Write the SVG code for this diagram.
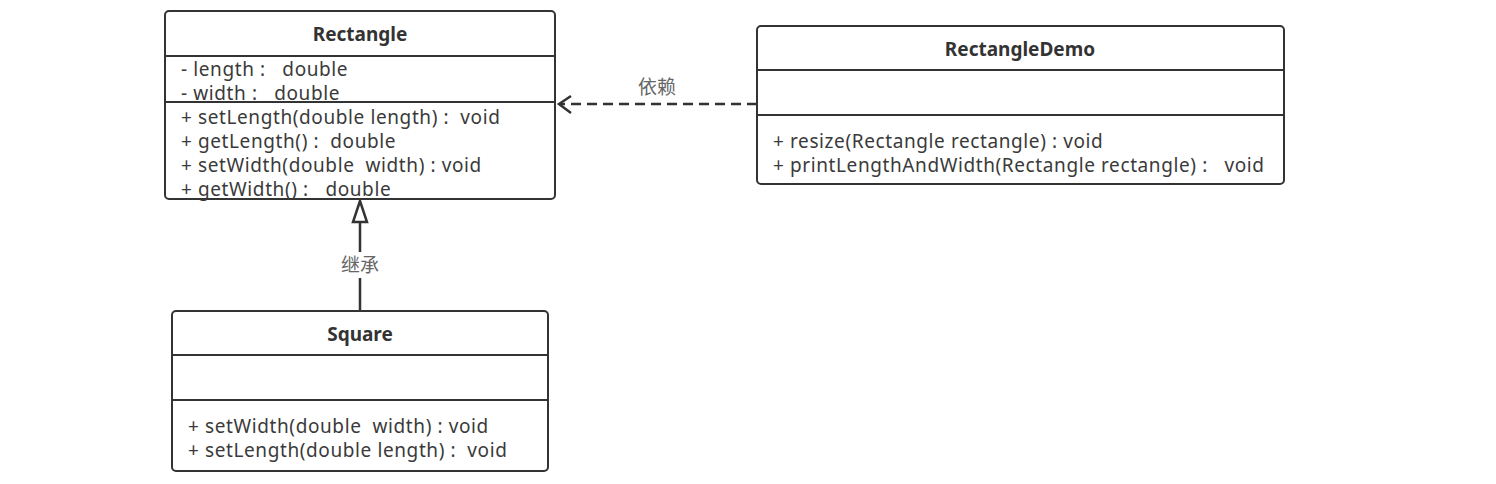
<svg xmlns="http://www.w3.org/2000/svg" width="1496" height="484" viewBox="0 0 1496 484">
<defs>
<style>
.box{fill:#fff;stroke:#333;stroke-width:2}
.sep{stroke:#333;stroke-width:2}
.title{font-family:"Noto Sans","Liberation Sans","Noto Sans CJK SC",sans-serif;font-size:19px;font-weight:bold;fill:#333;text-anchor:middle}
.item{font-family:"Noto Sans","Liberation Sans","Noto Sans CJK SC",sans-serif;font-size:19px;letter-spacing:0.6px;fill:#3a3a3a;white-space:pre}
.lbl{font-family:"Noto Sans CJK SC","Noto Sans",sans-serif;font-size:19px;fill:#666;text-anchor:middle}
.edge{fill:none;stroke:#333;stroke-width:2.5}
</style>
</defs>
<rect width="1496" height="484" fill="#fff"/>
<g id="connectors">
<line class="edge" x1="360" y1="311" x2="360" y2="222"/>
<polygon points="360,201 353,222 367,222" fill="#fff" stroke="#333" stroke-width="2.5"/>
<rect x="336" y="252" width="48" height="26" fill="#fff"/>
<text class="lbl" x="360" y="272">继承</text>
<line class="edge" x1="757" y1="104" x2="560" y2="104" stroke-dasharray="10,6"/>
<polyline class="edge" points="571,96 559,104 571,113"/>
<text class="lbl" x="657" y="94">依赖</text>
</g>
<g id="Rectangle">
<rect class="box" x="165" y="11" width="390" height="188" rx="4"/>
<line class="sep" x1="165" y1="56" x2="555" y2="56"/>
<line class="sep" x1="165" y1="102" x2="555" y2="102"/>
<text class="title" x="360" y="41">Rectangle</text>
<text class="item" x="181" y="76">- length :   double</text>
<text class="item" x="181" y="100">- width :   double</text>
<text class="item" x="181" y="124">+ setLength(double length) :  void</text>
<text class="item" x="181" y="148">+ getLength() :  double</text>
<text class="item" x="181" y="172">+ setWidth(double  width) : void</text>
<text class="item" x="181" y="196">+ getWidth() :   double</text>
</g>
<g id="RectangleDemo">
<rect class="box" x="757" y="26" width="527" height="158" rx="4"/>
<line class="sep" x1="757" y1="70" x2="1284" y2="70"/>
<line class="sep" x1="757" y1="115" x2="1284" y2="115"/>
<text class="title" x="1020" y="56">RectangleDemo</text>
<text class="item" x="773" y="148">+ resize(Rectangle rectangle) : void</text>
<text class="item" x="773" y="172">+ printLengthAndWidth(Rectangle rectangle) :   void</text>
</g>
<g id="Square">
<rect class="box" x="172" y="311" width="376" height="160" rx="4"/>
<line class="sep" x1="172" y1="355" x2="548" y2="355"/>
<line class="sep" x1="172" y1="400" x2="548" y2="400"/>
<text class="title" x="360" y="341">Square</text>
<text class="item" x="188" y="433">+ setWidth(double  width) : void</text>
<text class="item" x="188" y="457">+ setLength(double length) :  void</text>
</g>
</svg>
